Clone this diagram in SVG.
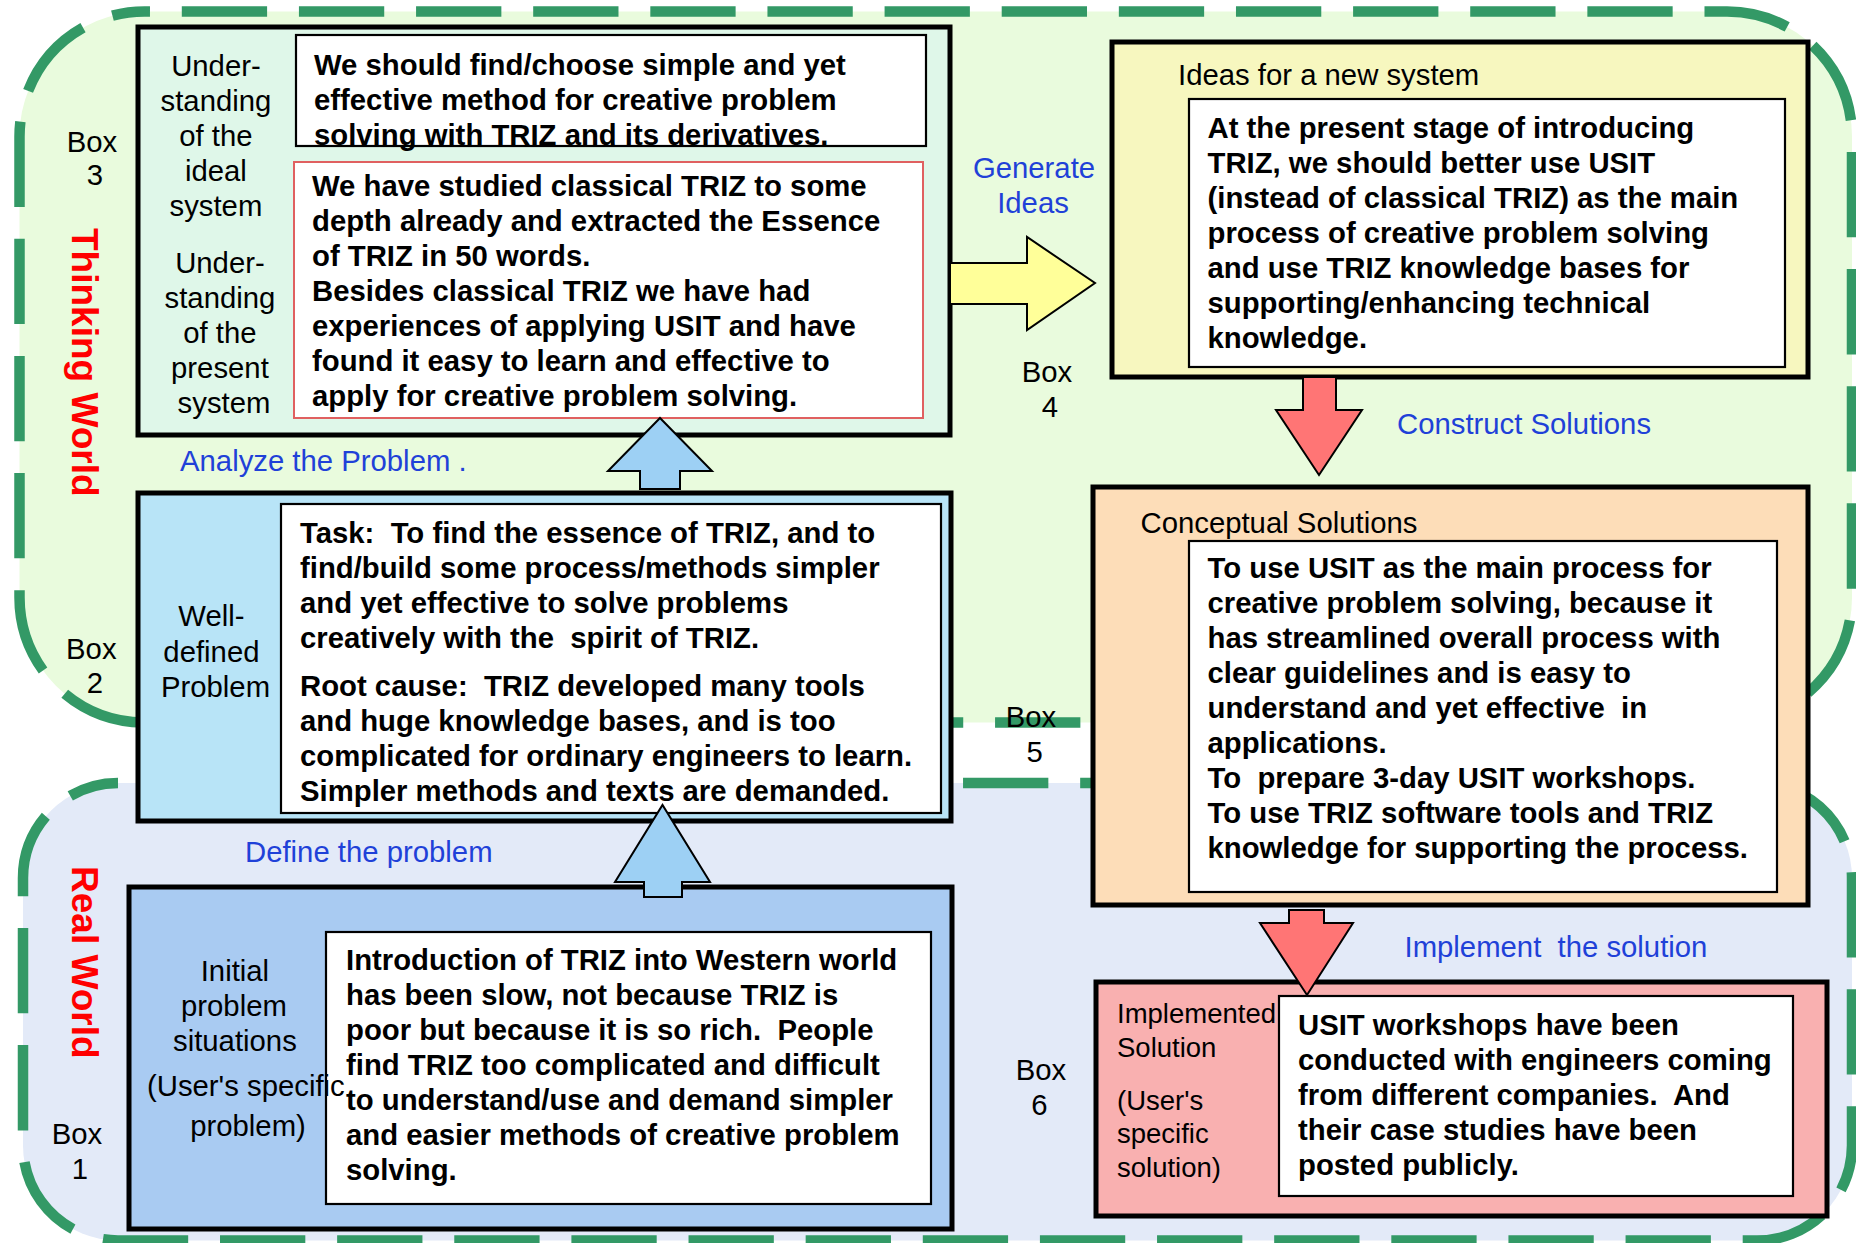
<svg xmlns="http://www.w3.org/2000/svg" width="1856" height="1243" viewBox="0 0 1856 1243">
  <style>
    .t { font-family: "Liberation Sans", Arial, Helvetica, sans-serif; font-size: 29.3px; fill: #000; }
    .b { font-weight: bold; transform: translate(0px, 1.5px); }
    .mid { text-anchor: middle; }
    .blue { fill: #1F41D8; }
    .small { font-size: 27.5px; }
    .world { font-family: "Liberation Sans", Arial, Helvetica, sans-serif; font-size: 37px; font-weight: bold; fill: #FF0000; }
    .zone { fill: none; stroke: #339966; stroke-width: 10.5; stroke-dasharray: 85.3 31.83; }
    .node { stroke: #000; stroke-width: 5; }
    .inner { fill: #fff; stroke: #000; stroke-width: 2.2; }
    .arrow { stroke: #000; stroke-width: 2; stroke-linejoin: miter; }
  </style>

  <rect width="1856" height="1243" fill="#fff"/>

  <!-- Thinking World zone -->
  <g id="thinking-world">
    <rect x="19.5" y="11.5" width="1832.5" height="711" rx="125" fill="#E9FBDD"/>
    <rect class="zone" x="19.5" y="11.5" width="1832.5" height="711" rx="125" stroke-dashoffset="79.83"/>
    <text class="world" transform="translate(71.5,228) rotate(90)">Thinking World</text>
  </g>

  <!-- Real World zone -->
  <g id="real-world">
    <rect x="23" y="783" width="1829" height="457.5" rx="95" fill="#E3EAF8"/>
    <rect class="zone" x="23" y="783" width="1829" height="457.5" rx="95" stroke-dashoffset="92"/>
    <text class="world" transform="translate(71.5,866) rotate(90)">Real World</text>
  </g>

  <!-- Box 3: understanding of the ideal / present system -->
  <g id="box3">
    <rect class="node" x="138" y="27" width="812" height="408" fill="#DFF7E9"/>
    <rect class="inner" x="296" y="35" width="630" height="111"/>
    <rect x="294" y="162" width="629" height="256" fill="#fff" stroke="#E06060" stroke-width="2"/>
    <text class="t mid">
      <tspan x="220" y="75.5">Under-</tspan>
      <tspan x="220" y="110.5">standing</tspan>
      <tspan x="220" y="145.5">of the</tspan>
      <tspan x="220" y="180.5">ideal</tspan>
      <tspan x="220" y="215.5">system</tspan>
      <tspan x="224" y="272.5">Under-</tspan>
      <tspan x="224" y="307.5">standing</tspan>
      <tspan x="224" y="342.5">of the</tspan>
      <tspan x="224" y="377.5">present</tspan>
      <tspan x="224" y="412.5">system</tspan>
    </text>
    <text class="t b">
      <tspan x="314" y="73">We should find/choose simple and yet</tspan>
      <tspan x="314" y="108">effective method for creative problem</tspan>
      <tspan x="314" y="143">solving with TRIZ and its derivatives.</tspan>
    </text>
    <text class="t b">
      <tspan x="312" y="194">We have studied classical TRIZ to some</tspan>
      <tspan x="312" y="229">depth already and extracted the Essence</tspan>
      <tspan x="312" y="264">of TRIZ in 50 words.</tspan>
      <tspan x="312" y="299">Besides classical TRIZ we have had</tspan>
      <tspan x="312" y="334">experiences of applying USIT and have</tspan>
      <tspan x="312" y="369">found it easy to learn and effective to</tspan>
      <tspan x="312" y="404">apply for creative problem solving.</tspan>
    </text>
    <text class="t mid"><tspan x="92" y="152">Box</tspan><tspan x="95" y="185">3</tspan></text>
  </g>

  <!-- Box 4: ideas for a new system -->
  <g id="box4">
    <rect class="node" x="1112" y="42" width="696" height="335" fill="#F7F7BF"/>
    <rect class="inner" x="1189" y="99" width="596" height="268"/>
    <text class="t" x="1178" y="84.5">Ideas for a new system</text>
    <text class="t b">
      <tspan x="1207.5" y="136.7">At the present stage of introducing</tspan>
      <tspan x="1207.5" y="171.7">TRIZ, we should better use USIT</tspan>
      <tspan x="1207.5" y="206.7">(instead of classical TRIZ) as the main</tspan>
      <tspan x="1207.5" y="241.7">process of creative problem solving</tspan>
      <tspan x="1207.5" y="276.7">and use TRIZ knowledge bases for</tspan>
      <tspan x="1207.5" y="311.7">supporting/enhancing technical</tspan>
      <tspan x="1207.5" y="346.7">knowledge.</tspan>
    </text>
    <text class="t mid"><tspan x="1047" y="382">Box</tspan><tspan x="1050" y="417">4</tspan></text>
  </g>

  <!-- Box 2: well-defined problem -->
  <g id="box2">
    <rect class="node" x="138" y="493" width="813" height="328" fill="#B8E4F7"/>
    <rect class="inner" x="281" y="504" width="660" height="309"/>
    <text class="t mid">
      <tspan x="215.5" y="626">Well-</tspan>
      <tspan x="215.5" y="661.5">defined</tspan>
      <tspan x="215.5" y="697">Problem</tspan>
    </text>
    <text class="t b">
      <tspan x="300" y="541">Task:&#160; To find the essence of TRIZ, and to</tspan>
      <tspan x="300" y="576">find/build some process/methods simpler</tspan>
      <tspan x="300" y="611">and yet effective to solve problems</tspan>
      <tspan x="300" y="646">creatively with the&#160; spirit of TRIZ.</tspan>
      <tspan x="300" y="694">Root cause:&#160; TRIZ developed many tools</tspan>
      <tspan x="300" y="729">and huge knowledge bases, and is too</tspan>
      <tspan x="300" y="764">complicated for ordinary engineers to learn.</tspan>
      <tspan x="300" y="799">Simpler methods and texts are demanded.</tspan>
    </text>
    <text class="t mid"><tspan x="91.3" y="659">Box</tspan><tspan x="95" y="693">2</tspan></text>
  </g>

  <!-- Box 5: conceptual solutions -->
  <g id="box5">
    <rect class="node" x="1093" y="487" width="715" height="418" fill="#FDDDB8"/>
    <rect class="inner" x="1189" y="541" width="588" height="351"/>
    <text class="t" x="1140.5" y="532.5">Conceptual Solutions</text>
    <text class="t b">
      <tspan x="1207.5" y="576.7">To use USIT as the main process for</tspan>
      <tspan x="1207.5" y="611.7">creative problem solving, because it</tspan>
      <tspan x="1207.5" y="646.7">has streamlined overall process with</tspan>
      <tspan x="1207.5" y="681.7">clear guidelines and is easy to</tspan>
      <tspan x="1207.5" y="716.7">understand and yet effective&#160; in</tspan>
      <tspan x="1207.5" y="751.7">applications.</tspan>
      <tspan x="1207.5" y="786.7">To&#160; prepare 3-day USIT workshops.</tspan>
      <tspan x="1207.5" y="821.7">To use TRIZ software tools and TRIZ</tspan>
      <tspan x="1207.5" y="856.7">knowledge for supporting the process.</tspan>
    </text>
    <text class="t mid"><tspan x="1031" y="727">Box</tspan><tspan x="1034.7" y="762">5</tspan></text>
  </g>

  <!-- Box 1: initial problem situations -->
  <g id="box1">
    <rect class="node" x="129" y="887" width="823" height="342" fill="#A9CBF2"/>
    <rect class="inner" x="326" y="932" width="605" height="272"/>
    <text class="t b">
      <tspan x="346" y="968.3">Introduction of TRIZ into Western world</tspan>
      <tspan x="346" y="1003.3">has been slow, not because TRIZ is</tspan>
      <tspan x="346" y="1038.3">poor but because it is so rich.&#160; People</tspan>
      <tspan x="346" y="1073.3">find TRIZ too complicated and difficult</tspan>
      <tspan x="346" y="1108.3">to understand/use and demand simpler</tspan>
      <tspan x="346" y="1143.3">and easier methods of creative problem</tspan>
      <tspan x="346" y="1178.3">solving.</tspan>
    </text>
    <text class="t mid">
      <tspan x="239" y="980.5">Initial</tspan>
      <tspan x="238" y="1015.5">problem</tspan>
      <tspan x="239" y="1050.5">situations</tspan>
      <tspan x="248" y="1136">problem)</tspan>
    </text>
    <text class="t" x="147" y="1095.5">(User's specific</text>
    <text class="t mid"><tspan x="77" y="1143.5">Box</tspan><tspan x="80" y="1178.5">1</tspan></text>
  </g>

  <!-- Box 6: implemented solution -->
  <g id="box6">
    <rect class="node" x="1096" y="982" width="731" height="234" fill="#F9B0B0"/>
    <rect class="inner" x="1279" y="996" width="514" height="200"/>
    <text class="t small">
      <tspan x="1117" y="1023.3">Implemented</tspan>
      <tspan x="1117" y="1056.7">Solution</tspan>
      <tspan x="1117" y="1110">(User's</tspan>
      <tspan x="1117" y="1143.3">specific</tspan>
      <tspan x="1117" y="1176.7">solution)</tspan>
    </text>
    <text class="t b">
      <tspan x="1298" y="1033.3">USIT workshops have been</tspan>
      <tspan x="1298" y="1068.3">conducted with engineers coming</tspan>
      <tspan x="1298" y="1103.3">from different companies.&#160; And</tspan>
      <tspan x="1298" y="1138.3">their case studies have been</tspan>
      <tspan x="1298" y="1173.3">posted publicly.</tspan>
    </text>
    <text class="t mid"><tspan x="1041" y="1080">Box</tspan><tspan x="1039.5" y="1115">6</tspan></text>
  </g>

  <!-- Block arrows between the stages, with their step labels -->
  <g id="connectors">
    <polygon class="arrow" fill="#9DD0F4" points="644,897 644,882 615,882 662.5,805 710,882 682,882 682,897"/>
    <text class="t blue" x="245" y="862">Define the problem</text>

    <polygon class="arrow" fill="#9DD0F4" points="640,489 640,471 608,471 660,418 712,471 680,471 680,489"/>
    <text class="t blue" x="180" y="471">Analyze the Problem .</text>

    <polygon class="arrow" fill="#FFFF99" points="950,263 1027,263 1027,237 1095,283 1027,330 1027,304 950,304"/>
    <text class="t blue mid"><tspan x="1034" y="178.3">Generate</tspan><tspan x="1033" y="213.3">Ideas</tspan></text>

    <polygon class="arrow" fill="#FF7575" points="1303,377 1336,377 1336,410 1362,410 1319,475 1276,410 1303,410"/>
    <text class="t blue" x="1397" y="434">Construct Solutions</text>

    <polygon class="arrow" fill="#FF7575" points="1289,910 1324,910 1324,923 1353,923 1307,995 1260,923 1289,923"/>
    <text class="t blue" x="1404.5" y="957">Implement&#160; the solution</text>
  </g>
</svg>
